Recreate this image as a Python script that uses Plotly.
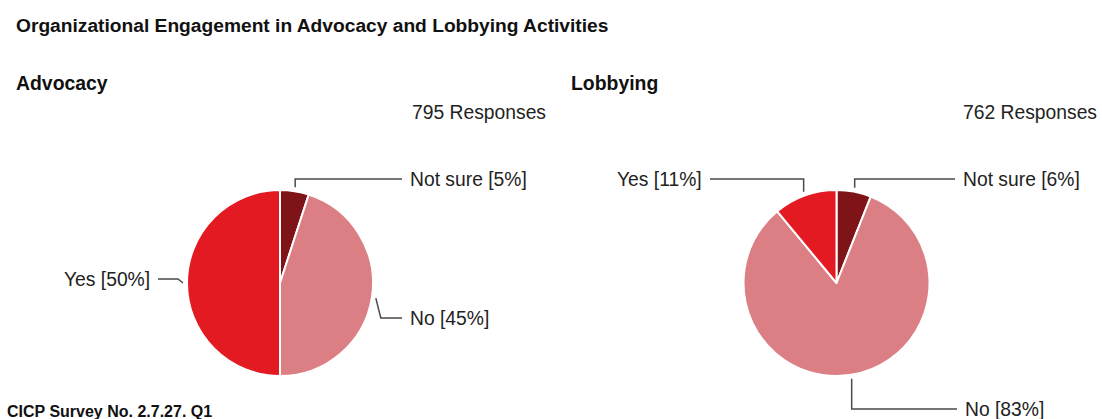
import math
import plotly.graph_objects as go

W, H = 1102, 419

# ---- data ----
categories = ["Not sure", "No", "Yes"]
advocacy_pct = [5, 45, 50]
lobbying_pct = [6, 83, 11]
advocacy_responses = 795
lobbying_responses = 762
slice_colors = ["#7f1418", "#db7f85", "#e31a22"]

TITLE = "Organizational Engagement in Advocacy and Lobbying Activities"
FOOTER = "CICP Survey No. 2.7.27. Q1"

FONT = "Liberation Sans, Arial, Helvetica, sans-serif"
TEXT_COLOR = "#222222"
LEADER_COLOR = "#4a4a4a"
LABEL_SIZE = 19.3

# ---- layout of the two pies (pixel space, origin top-left) ----
pies = [
    dict(name="Advocacy", values=advocacy_pct, responses=advocacy_responses,
         cx=280, cy=283, r=93, head_x=14, resp_right=548,
         labels={
             "Not sure": dict(side="right", y=179, dx=0, end=402),
             "No": dict(side="right", y=318, dx=5, end=402),
             "Yes": dict(side="left", y=279, dx=-5, end=158),
         }),
    dict(name="Lobbying", values=lobbying_pct, responses=lobbying_responses,
         cx=836.5, cy=283, r=93, head_x=569, resp_right=1099,
         labels={
             "Not sure": dict(side="right", y=179, dx=0, end=955),
             "No": dict(side="right", y=409, dx=0, end=957),
             "Yes": dict(side="left", y=179, dx=0, end=710),
         }),
]


def fx(px):
    return px / W


def fy(py):
    return 1 - py / H


fig = go.Figure()
shapes = []
annotations = []

for p in pies:
    cx, cy, r = p["cx"], p["cy"], p["r"]
    fig.add_trace(go.Pie(
        labels=categories,
        values=p["values"],
        sort=False,
        direction="clockwise",
        rotation=0,
        marker=dict(colors=slice_colors, line=dict(color="white", width=2)),
        textinfo="none",
        hoverinfo="label+percent",
        showlegend=False,
        domain=dict(x=[fx(cx - r), fx(cx + r)], y=[fy(cy + r), fy(cy - r)]),
    ))

    # leader lines and labels, anchored at each slice's mid-angle
    total = sum(p["values"])
    start = 0.0
    for cat, val in zip(categories, p["values"]):
        mid = (start + val / 2) / total * 2 * math.pi
        start += val
        ax = cx + (r + 4) * math.sin(mid)
        ay = cy - (r + 4) * math.cos(mid)
        spec = p["labels"][cat]
        ex, ey = ax + spec["dx"], spec["y"]
        path = "M {} {} L {} {} L {} {}".format(
            fx(ax), fy(ay), fx(ex), fy(ey), fx(spec["end"]), fy(ey))
        shapes.append(dict(type="path", path=path, xref="paper", yref="paper",
                           line=dict(color=LEADER_COLOR, width=1.5)))
        pct = round(val / total * 100)
        if spec["side"] == "right":
            tx, anchor = spec["end"] + 6, "left"
        else:
            tx, anchor = spec["end"] - 6, "right"
        annotations.append(dict(
            text=f"{cat} [{pct}%]", x=fx(tx), y=fy(ey), xref="paper", yref="paper",
            xanchor=anchor, yanchor="middle", showarrow=False,
            font=dict(family=FONT, size=LABEL_SIZE, color=TEXT_COLOR)))

    # panel heading and response count
    annotations.append(dict(
        text=f"<b>{p['name']}</b>", x=fx(p["head_x"]), y=fy(83), xref="paper", yref="paper",
        xanchor="left", yanchor="middle", showarrow=False,
        font=dict(family=FONT, size=19.4, color="#111111")))
    annotations.append(dict(
        text=f"{p['responses']} Responses", x=fx(p["resp_right"]), y=fy(113),
        xref="paper", yref="paper", xanchor="right", yanchor="middle", showarrow=False,
        font=dict(family=FONT, size=LABEL_SIZE, color=TEXT_COLOR)))

annotations.append(dict(
    text=f"<b>{TITLE}</b>", x=fx(14), y=fy(26), xref="paper", yref="paper",
    xanchor="left", yanchor="middle", showarrow=False,
    font=dict(family=FONT, size=19.2, color="#111111")))
annotations.append(dict(
    text=f"<b>{FOOTER}</b>", x=fx(5), y=fy(411), xref="paper", yref="paper",
    xanchor="left", yanchor="middle", showarrow=False,
    font=dict(family=FONT, size=16, color="#111111")))

fig.update_layout(
    width=W, height=H,
    margin=dict(l=0, r=0, t=0, b=0),
    paper_bgcolor="white",
    plot_bgcolor="white",
    shapes=shapes,
    annotations=annotations,
)

fig.write_html("out.html", config={"displayModeBar": False})
